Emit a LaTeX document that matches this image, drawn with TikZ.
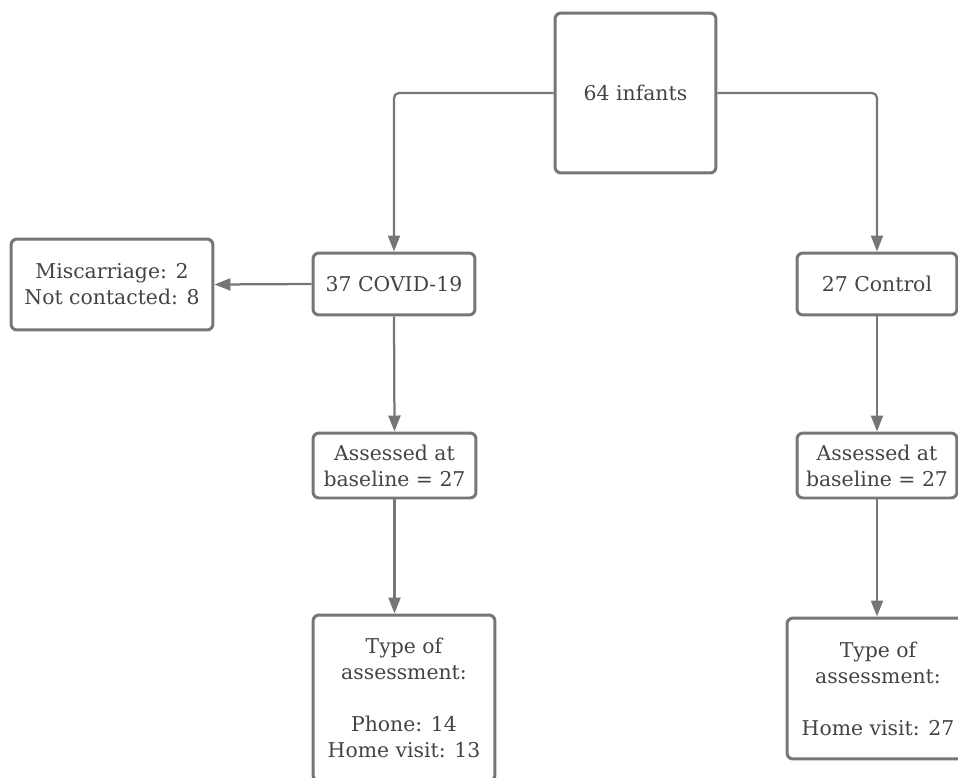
\documentclass[tikz,border=0pt]{standalone}
\usepackage{fontspec}
\setmainfont{DejaVu Serif}
\usetikzlibrary{arrows.meta}
\definecolor{boxgray}{HTML}{767676}
\definecolor{txtgray}{HTML}{444444}

\begin{document}
\begin{tikzpicture}[%
x=0.02cm, y=-0.02cm,
>={Triangle[length=0.32cm,width=0.24cm]},
box/.style={draw=boxgray, line width=0.06cm, rounded corners=0.12cm, fill=white,
  text=txtgray, align=center, inner sep=0pt, font=\fontsize{11.6}{14.8}\selectfont},
link/.style={draw=boxgray, line width=0.045cm, ->, rounded corners=0.1cm}
]
\useasboundingbox (0,0) rectangle (958,778);
\clip (0,0) rectangle (958,778);

\node[box, minimum width=3.22cm, minimum height=3.2cm] (infants) at (635.5,93) {64 infants};
\node[box, minimum width=3.24cm, minimum height=1.24cm] (covid) at (394,284) {37 COVID-19};
\node[box, minimum width=4.04cm, minimum height=1.82cm] (lost) at (112,284.5) {Miscarriage: 2\\Not contacted: 8};
\node[box, minimum width=3.2cm, minimum height=1.24cm] (control) at (877,284) {27 Control};
\node[box, minimum width=3.26cm, minimum height=1.3cm] (baseC) at (394.5,465.5) {Assessed at\\baseline = 27};
\node[box, minimum width=3.2cm, minimum height=1.3cm] (baseK) at (877,465.5) {Assessed at\\baseline = 27};
\node[box, minimum width=3.64cm, minimum height=3.32cm] (typeC) at (404,698) {Type of\\assessment:\\[14.8pt]Phone: 14\\Home visit: 13};
\node[box, minimum width=3.64cm, minimum height=2.82cm] (typeK) at (878,688.5) {Type of\\assessment:\\[14.8pt]Home visit: 27};

% split into the two groups
\path[link] (infants.west) -| (covid.north);
\path[link] (infants.east) -| (control.north);
\path[link] (covid.west) -- (lost.east);

% follow-up
\path[link] (covid.south) -- (baseC.north);
\path[link] (baseC.south) -- (baseC.south |- typeC.north);
\path[link] (control.south) -- (baseK.north);
\path[link] (baseK.south) -- (baseK.south |- typeK.north);
\end{tikzpicture}
\end{document}
